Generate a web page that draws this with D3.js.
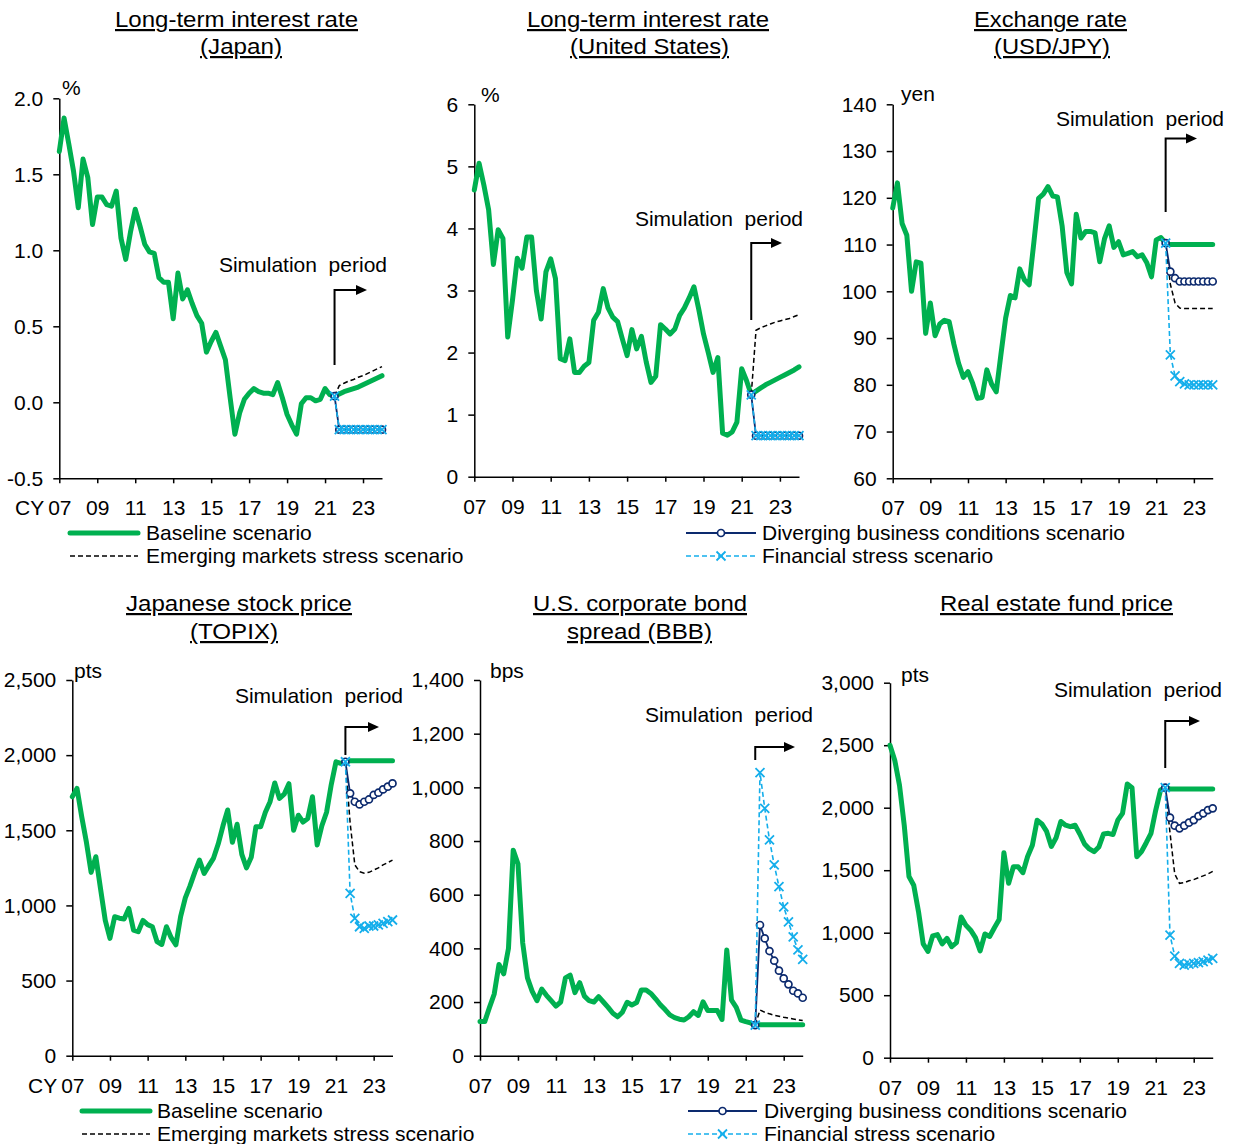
<!DOCTYPE html>
<html><head><meta charset="utf-8">
<script src="https://cdn.jsdelivr.net/npm/d3@7"></script>
<style>
body{margin:0;background:#fff}
svg text{font-family:"Liberation Sans",Arial,sans-serif;fill:#000}
</style>
</head><body>
<svg id="c" width="1233" height="1144"></svg>
<script>
// ---------------- DATA ----------------
const quarters = [
"2007Q1","2007Q2","2007Q3","2007Q4","2008Q1","2008Q2","2008Q3","2008Q4","2009Q1","2009Q2","2009Q3","2009Q4",
"2010Q1","2010Q2","2010Q3","2010Q4","2011Q1","2011Q2","2011Q3","2011Q4","2012Q1","2012Q2","2012Q3","2012Q4",
"2013Q1","2013Q2","2013Q3","2013Q4","2014Q1","2014Q2","2014Q3","2014Q4","2015Q1","2015Q2","2015Q3","2015Q4",
"2016Q1","2016Q2","2016Q3","2016Q4","2017Q1","2017Q2","2017Q3","2017Q4","2018Q1","2018Q2","2018Q3","2018Q4",
"2019Q1","2019Q2","2019Q3","2019Q4","2020Q1","2020Q2","2020Q3","2020Q4","2021Q1","2021Q2","2021Q3","2021Q4",
"2022Q1","2022Q2","2022Q3","2022Q4","2023Q1","2023Q2","2023Q3","2023Q4","2024Q1"];
const simStartIndex = 58; // 2021Q3

const xTickYears = [2007,2009,2011,2013,2015,2017,2019,2021,2023];
const xTickLabels = ["07","09","11","13","15","17","19","21","23"];

// Long-term interest rate (Japan), %
const jpBaseline = [1.65,1.87,1.70,1.52,1.28,1.60,1.48,1.17,1.35,1.35,
 1.30,1.29,1.39,1.08,0.94,1.12,1.27,1.16,1.04,0.99,
 0.98,0.82,0.79,0.79,0.55,0.85,0.68,0.74,0.65,0.57,
 0.52,0.33,0.40,0.46,0.37,0.28,0.03,-0.21,-0.07,0.02,
 0.06,0.09,0.07,0.06,0.06,0.05,0.13,0.03,-0.08,-0.15,
 -0.21,-0.01,0.03,0.03,0.01,0.02,0.09,0.05,0.04,
 0.055,0.07,0.08,0.09,0.10,0.115,0.13,0.145,0.16,0.175];
const jpEmerging = [0.04,0.11,0.125,0.14,0.15,0.165,0.175,0.19,0.205,0.22,0.235];
const jpDiverging = [0.04,-0.18,-0.18,-0.18,-0.18,-0.18,-0.18,-0.18,-0.18,-0.18,-0.18];
const jpFinancial = [0.04,-0.18,-0.18,-0.18,-0.18,-0.18,-0.18,-0.18,-0.18,-0.18,-0.18];
const jpTicks = [-0.5,0,0.5,1.0,1.5,2.0];

// Long-term interest rate (United States), %
const usBaseline = [4.62,5.05,4.70,4.30,3.42,3.98,3.84,2.25,2.85,3.52,
 3.36,3.86,3.86,3.00,2.54,3.30,3.51,3.19,1.90,1.87,
 2.22,1.68,1.68,1.78,1.84,2.52,2.65,3.03,2.72,2.57,
 2.50,2.22,1.95,2.37,2.06,2.26,1.85,1.52,1.62,2.45,
 2.38,2.30,2.38,2.60,2.72,2.88,3.06,2.70,2.30,2.00,
 1.68,1.92,0.70,0.67,0.72,0.88,1.74,1.55,1.32,
 1.38,1.43,1.48,1.52,1.56,1.60,1.64,1.68,1.72,1.77];
const usEmerging = [1.32,2.36,2.40,2.43,2.46,2.49,2.51,2.53,2.55,2.58,2.61];
const usDiverging = [1.32,0.66,0.66,0.66,0.66,0.66,0.66,0.66,0.66,0.66,0.66];
const usFinancial = [1.32,0.66,0.66,0.66,0.66,0.66,0.66,0.66,0.66,0.66,0.66];
const usTicks = [0,1,2,3,4,5,6];

// Exchange rate (USD/JPY), yen
const fxBaseline = [117.8,123.2,114.5,112.0,100.0,106.3,106.0,91.0,97.5,90.5,
 93.0,93.8,93.5,88.7,84.6,81.6,82.8,80.3,77.1,77.3,
 83.2,80.2,78.5,86.5,94.3,99.1,98.6,104.8,102.4,101.4,
 110.5,119.9,120.8,122.4,120.4,120.2,114.0,104.0,101.6,116.5,
 111.4,112.8,112.8,112.5,106.3,111.2,114.0,109.4,110.6,107.8,
 108.1,108.5,107.4,107.8,106.1,103.1,111.0,111.5,110.3,
 110,110,110,110,110,110,110,110,110,110];
const fxEmerging = [110.3,101.5,97.5,96.4,96.3,96.3,96.3,96.3,96.3,96.3,96.3];
const fxDiverging = [110.3,104.2,102.8,102.1,102.1,102.1,102.1,102.1,102.1,102.1,102.1];
const fxFinancial = [110.3,86.4,81.9,80.7,80.2,80.0,80.0,80.0,80.0,80.0,80.0];
const fxTicks = [60,70,80,90,100,110,120,130,140];

// Japanese stock price (TOPIX), pts
const topixBaseline = [1723,1779,1590,1420,1220,1324,1110,900,781,925,
 915,910,980,836,825,900,872,858,759,740,
 858,785,738,925,1050,1130,1220,1302,1213,1265,
 1315,1410,1530,1635,1420,1540,1340,1250,1320,1524,
 1524,1620,1690,1815,1712,1740,1810,1500,1600,1555,
 1579,1723,1402,1530,1620,1805,1956,1945,1956,
 1962,1962,1962,1962,1962,1962,1962,1962,1962,1962];
const topixEmerging = [1956,1550,1270,1225,1215,1220,1235,1250,1270,1285,1302];
const topixDiverging = [1956,1746,1690,1672,1690,1705,1735,1750,1772,1790,1812];
const topixFinancial = [1956,1080,914,858,847,863,863,870,880,892,903];
const topixTicks = [0,500,1000,1500,2000,2500];

// U.S. corporate bond spread (BBB), bps
const bbbBaseline = [127,127,180,230,340,305,400,766,715,420,
 290,240,205,248,225,205,185,200,290,300,
 235,272,222,205,200,220,200,180,158,145,
 162,199,189,198,245,245,232,212,190,172,
 152,142,136,133,145,164,150,201,168,168,
 168,135,394,207,180,133,127,122,114,
 115,115,115,115,115,115,115,115,115,115];
const bbbEmerging = [114,170,162,156,151,147,143,140,137,134,131];
const bbbDiverging = [114,487,437,390,354,317,288,266,242,232,216];
const bbbFinancial = [114,1055,922,804,711,630,555,499,443,394,359];
const bbbTicks = [0,200,400,600,800,1000,1200,1400];

// Real estate fund price, pts
const reitBaseline = [2500,2380,2180,1860,1450,1380,1170,910,850,975,
 985,910,955,888,920,1125,1060,1020,960,855,
 990,970,1040,1105,1640,1395,1528,1528,1480,1610,
 1700,1900,1870,1810,1690,1760,1890,1860,1848,1860,
 1790,1710,1670,1648,1685,1790,1795,1785,1900,1955,
 2190,2160,1608,1650,1720,1795,1981,2141,2160,
 2150,2150,2150,2150,2150,2150,2150,2150,2150,2150];
const reitEmerging = [2160,1800,1470,1395,1400,1415,1425,1440,1455,1470,1490];
const reitDiverging = [2160,1920,1856,1835,1856,1880,1901,1933,1955,1981,1995];
const reitFinancial = [2160,981,813,755,741,749,755,760,768,781,795];
const reitTicks = [0,500,1000,1500,2000,2500,3000];

const seriesNames = ["Baseline scenario","Emerging markets stress scenario",
  "Diverging business conditions scenario","Financial stress scenario"];

// ---------------- STYLE / LAYOUT ----------------
const GREEN = "#00B050", NAVY = "#0C2A6E", SKY = "#14AEEB";
const FONT = 21;
const DASH = "5,3";
const hyphenMinus = f => d => f(d).replace("\u2212", "-");

const panels = [
 {title:[["Long-term interest rate",236.5,27,243],["(Japan)",241,54,82]], unit:"%", ux:62, uy:95,
  base:jpBaseline, em:jpEmerging, div:jpDiverging, fin:jpFinancial, ticks:jpTicks, fmt:hyphenMinus(d3.format(".1f")),
  domain:[-0.5,2.0], x0:59.3, x1:382, yT:98.3, yB:478.3, cy:true,
  arrow:{yb:365, yt:290, x2:367}, sim:{x:387, y:272}},
 {title:[["Long-term interest rate",648,27,242],["(United States)",649.5,54,159]], unit:"%", ux:481, uy:102,
  base:usBaseline, em:usEmerging, div:usDiverging, fin:usFinancial, ticks:usTicks, fmt:d3.format("d"),
  domain:[0,6], x0:474.3, x1:799, yT:104.3, yB:476.7, cy:false,
  arrow:{yb:320, yt:243, x2:782}, sim:{x:803, y:226}},
 {title:[["Exchange rate",1050.5,27,153],["(USD/JPY)",1052,54,116]], unit:"yen", ux:901, uy:101,
  base:fxBaseline, em:fxEmerging, div:fxDiverging, fin:fxFinancial, ticks:fxTicks, fmt:d3.format("d"),
  domain:[60,140], x0:892.7, x1:1212.7, yT:104.3, yB:478.3, cy:false,
  arrow:{yb:212, yt:138.5, x2:1197}, sim:{x:1224, y:126}},
 {title:[["Japanese stock price",239,611,226],["(TOPIX)",234,639,88]], unit:"pts", ux:74, uy:678,
  base:topixBaseline, em:topixEmerging, div:topixDiverging, fin:topixFinancial, ticks:topixTicks, fmt:d3.format(","),
  domain:[0,2500], x0:72.3, x1:392.5, yT:680, yB:1055.7, cy:true,
  arrow:{yb:755, yt:727, x2:379}, sim:{x:403, y:703}},
 {title:[["U.S. corporate bond",640,611,214],["spread (BBB)",639.5,639,145]], unit:"bps", ux:490, uy:678,
  base:bbbBaseline, em:bbbEmerging, div:bbbDiverging, fin:bbbFinancial, ticks:bbbTicks, fmt:d3.format(","),
  domain:[0,1400], x0:480, x1:802.7, yT:680, yB:1055.7, cy:false,
  arrow:{yb:760, yt:747, x2:795}, sim:{x:813, y:722}},
 {title:[["Real estate fund price",1056.5,611,233]], unit:"pts", ux:901, uy:682,
  base:reitBaseline, em:reitEmerging, div:reitDiverging, fin:reitFinancial, ticks:reitTicks, fmt:d3.format(","),
  domain:[0,3000], x0:890, x1:1212.7, yT:682.7, yB:1057.7, cy:false,
  arrow:{yb:768, yt:721, x2:1200}, sim:{x:1222, y:697}}
];

// ---------------- DRAW ----------------
const svg = d3.select("#c");
const qTime = quarters.map(q => +q.slice(0,4) + (+q.slice(5) - 1) / 4);

function xMarker(sel, size){
  sel.append("path").attr("d",`M${-size},${-size}L${size},${size}M${-size},${size}L${size},${-size}`)
    .attr("stroke",SKY).attr("stroke-width",1.8).attr("fill","none");
}

panels.forEach(p => {
  const x = d3.scaleLinear().domain([2007, 2024]).range([p.x0, p.x1]);
  const y = d3.scaleLinear().domain(p.domain).range([p.yB, p.yT]);
  const g = svg.append("g");

  // titles
  p.title.forEach(([t, cx, by, w]) => {
    g.append("text").attr("x", cx).attr("y", by).attr("text-anchor","middle")
      .attr("font-size", 22).attr("textLength", w).attr("lengthAdjust","spacingAndGlyphs")
      .style("text-decoration","underline").text(t);
  });

  // axes
  const ya = g.append("g").attr("transform",`translate(${p.x0},0)`)
    .call(d3.axisLeft(y).tickValues(p.ticks).tickFormat(p.fmt).tickSize(6).tickSizeOuter(0).tickPadding(10));
  const xa = g.append("g").attr("transform",`translate(0,${p.yB})`)
    .call(d3.axisBottom(x).tickValues(xTickYears).tickFormat((d,i)=>xTickLabels[i]).tickSize(5).tickSizeOuter(0).tickPadding(17));
  [ya, xa].forEach(a => {
    a.attr("font-family", null).attr("font-size", null);
    a.selectAll("path,line").attr("stroke","#000").attr("stroke-width",1.5);
    a.selectAll("text").attr("font-size", FONT).attr("fill","#000");
  });
  if (p.cy) {
    g.append("text").attr("x", p.x0 - 15).attr("y", p.yB + 22 + 0.71*FONT)
      .attr("text-anchor","end").attr("font-size", FONT).text("CY");
  }
  // unit
  g.append("text").attr("x", p.ux).attr("y", p.uy).attr("font-size", FONT).text(p.unit);

  // lines
  const line = d3.line().x(d => x(d.t)).y(d => y(d.v));
  const baseData = p.base.map((v,i) => ({t:qTime[i], v}));
  const simData = arr => arr.map((v,i) => ({t:qTime[simStartIndex+i], v}));

  g.append("path").datum(baseData).attr("d", line).attr("fill","none")
    .attr("stroke", GREEN).attr("stroke-width", 5).attr("stroke-linejoin","round").attr("stroke-linecap","round");

  g.append("path").datum(simData(p.em)).attr("d", line).attr("fill","none")
    .attr("stroke","#000").attr("stroke-width",1.5).attr("stroke-dasharray",DASH);

  const dv = simData(p.div);
  g.append("path").datum(dv).attr("d", line).attr("fill","none")
    .attr("stroke", NAVY).attr("stroke-width",1.8);
  g.selectAll(null).data(dv).join("circle").attr("cx", d => x(d.t)).attr("cy", d => y(d.v))
    .attr("r",3.5).attr("fill","#fff").attr("stroke",NAVY).attr("stroke-width",1.7);

  const fn = simData(p.fin);
  g.append("path").datum(fn).attr("d", line).attr("fill","none")
    .attr("stroke", SKY).attr("stroke-width",1.6).attr("stroke-dasharray",DASH);
  g.selectAll(null).data(fn).join("g").attr("transform", d => `translate(${x(d.t)},${y(d.v)})`)
    .each(function(){ xMarker(d3.select(this), 4.5); });

  // simulation period arrow
  const ax = x(qTime[simStartIndex]);
  g.append("path").attr("d", `M${ax},${p.arrow.yb}V${p.arrow.yt}H${p.arrow.x2 - 9}`)
    .attr("fill","none").attr("stroke","#000").attr("stroke-width",2);
  g.append("path").attr("d", `M${p.arrow.x2},${p.arrow.yt}L${p.arrow.x2-11},${p.arrow.yt-5}L${p.arrow.x2-11},${p.arrow.yt+5}Z`)
    .attr("fill","#000");
  g.append("text").attr("x", p.sim.x).attr("y", p.sim.y).attr("text-anchor","end")
    .attr("font-size", FONT).attr("xml:space","preserve").style("white-space","pre").text("Simulation  period");
});

// ---------------- LEGENDS ----------------
function legend(x1, x2, tx, y1, y2, left){
  const g = svg.append("g");
  const mid = (x1 + x2) / 2;
  if (left) {
    g.append("line").attr("x1",x1).attr("x2",x2).attr("y1",y1).attr("y2",y1)
      .attr("stroke",GREEN).attr("stroke-width",5).attr("stroke-linecap","round");
    g.append("text").attr("x",tx).attr("y",y1).attr("dy","0.35em").attr("font-size",FONT).text(seriesNames[0]);
    g.append("line").attr("x1",x1).attr("x2",x2).attr("y1",y2).attr("y2",y2)
      .attr("stroke","#000").attr("stroke-width",1.5).attr("stroke-dasharray",DASH);
    g.append("text").attr("x",tx).attr("y",y2).attr("dy","0.35em").attr("font-size",FONT).text(seriesNames[1]);
  } else {
    g.append("line").attr("x1",x1).attr("x2",x2).attr("y1",y1).attr("y2",y1)
      .attr("stroke",NAVY).attr("stroke-width",1.8);
    g.append("circle").attr("cx",mid).attr("cy",y1).attr("r",3.5).attr("fill","#fff")
      .attr("stroke",NAVY).attr("stroke-width",1.7);
    g.append("text").attr("x",tx).attr("y",y1).attr("dy","0.35em").attr("font-size",FONT).text(seriesNames[2]);
    g.append("line").attr("x1",x1).attr("x2",x2).attr("y1",y2).attr("y2",y2)
      .attr("stroke",SKY).attr("stroke-width",1.6).attr("stroke-dasharray",DASH);
    xMarker(g.append("g").attr("transform",`translate(${mid},${y2})`), 4.5);
    g.append("text").attr("x",tx).attr("y",y2).attr("dy","0.35em").attr("font-size",FONT).text(seriesNames[3]);
  }
}
legend(70, 138, 146, 533, 556, true);
legend(686, 756, 762, 533, 556, false);
legend(82, 150, 157, 1111, 1134, true);
legend(688, 757, 764, 1111, 1134, false);
</script>
</body></html>
